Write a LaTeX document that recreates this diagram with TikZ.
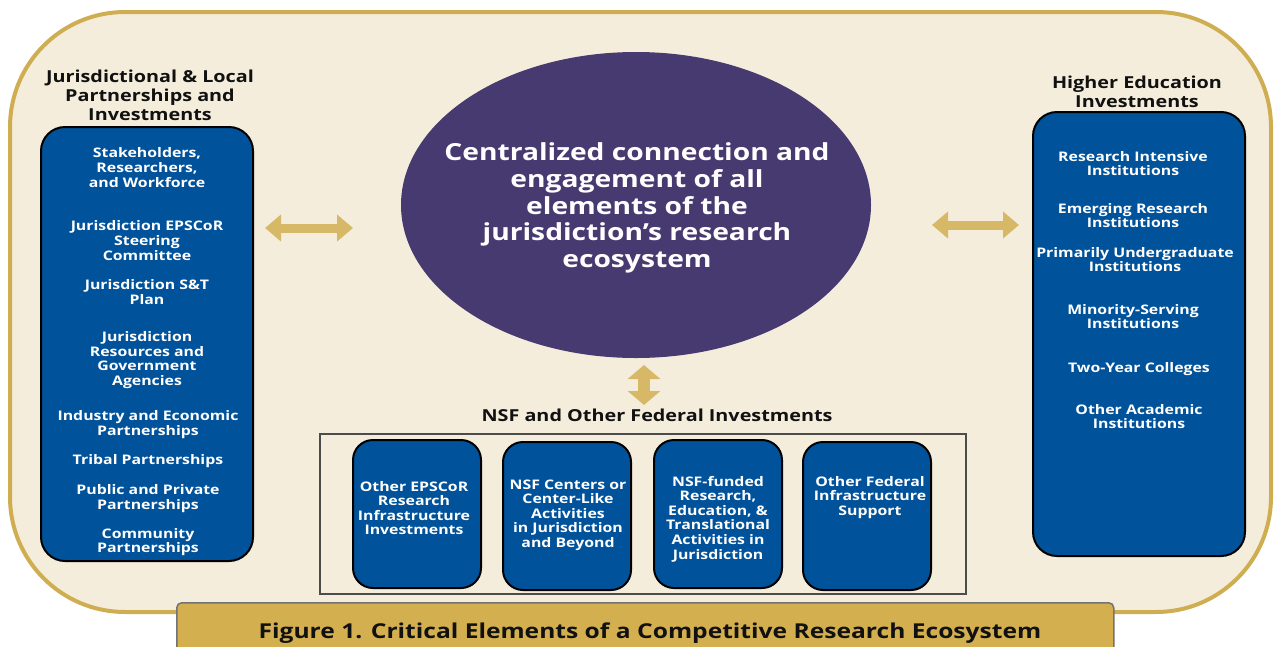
\documentclass[tikz,border=0pt]{standalone}
\usepackage{fontspec}
\setmainfont{Open Sans}[FakeStretch=1.2]
\usetikzlibrary{shapes.geometric,arrows.meta}
\definecolor{cream}{HTML}{F5EDDC}
\definecolor{framegold}{HTML}{CFAE52}
\definecolor{arrowgold}{HTML}{D6B866}
\definecolor{captgold}{HTML}{D3AF4F}
\definecolor{nsfblue}{HTML}{00529B}
\definecolor{ecopurple}{HTML}{473A70}
\definecolor{inkblack}{HTML}{111111}
\tikzset{
  bluebox/.style={draw=black, line width=2pt, fill=nsfblue, rounded corners=24pt, inner sep=0pt},
  smallbox/.style={draw=black, line width=2pt, fill=nsfblue, rounded corners=20pt, inner sep=0pt,
    minimum width=128pt, minimum height=148pt},
  itemtxt/.style={text=white, font=\bfseries\fontsize{13.2}{14.6}\selectfont, align=center, inner sep=0pt},
  headtxt/.style={text=inkblack, font=\bfseries\fontsize{16.5}{19}\selectfont, align=center, inner sep=0pt},
  hdblarrow/.style={arrowgold, line width=9pt, {Triangle[width=26pt,length=16pt]}-{Triangle[width=26pt,length=16pt]}},
  vdblarrow/.style={arrowgold, line width=12pt, {Triangle[width=32pt,length=14pt]}-{Triangle[width=32pt,length=14pt]}},
}
\begin{document}
\begin{tikzpicture}[x=1pt,y=-1pt]
\useasboundingbox (0,0) rectangle (1274,646);
\fill[white] (0,0) rectangle (1274,646);
% outer frame
\draw[framegold, line width=4pt, fill=cream, rounded corners=115pt] (10,12) rectangle (1271,612);

% left column
\node[headtxt] (lt) at (150,95) {Jurisdictional \& Local\\Partnerships and\\Investments};
\node[bluebox, minimum width=212pt, minimum height=434pt] (L) at (147,344) {};
\node[itemtxt] (l1) at (147,167.5) {Stakeholders,\\Researchers,\\and Workforce};
\node[itemtxt] (l2) at (147,240.5) {Jurisdiction EPSCoR\\Steering\\Committee};
\node[itemtxt] (l3) at (147,292) {Jurisdiction S\&T\\Plan};
\node[itemtxt] (l4) at (147,360) {Jurisdiction\\Resources and\\Government\\Agencies};
\node[itemtxt] (l5) at (148,424.5) {Industry and Economic\\Partnerships};
\node[itemtxt] (l6) at (148,461) {Tribal Partnerships};
\node[itemtxt] (l7) at (148,498.5) {Public and Private\\Partnerships};
\node[itemtxt] (l8) at (148,542) {Community\\Partnerships};

% right column
\node[headtxt] (rt) at (1137,91.5) {Higher Education\\Investments};
\node[bluebox, minimum width=212pt, minimum height=444pt] (R) at (1139,334) {};
\node[itemtxt] (r1) at (1133,163.5) {Research Intensive\\Institutions};
\node[itemtxt] (r2) at (1133,215.5) {Emerging Research\\Institutions};
\node[itemtxt] (r3) at (1135,259.5) {Primarily Undergraduate\\Institutions};
\node[itemtxt] (r4) at (1133,316.5) {Minority-Serving\\Institutions};
\node[itemtxt] (r5) at (1139,369) {Two-Year Colleges};
\node[itemtxt] (r6) at (1139,416.5) {Other Academic\\Institutions};

% centre ellipse
\node[ellipse, fill=ecopurple, minimum width=470pt, minimum height=306pt, inner sep=0pt] (E) at (636,205) {};
\node[text=white, align=center, inner sep=0pt, font=\bfseries\fontsize{23.5}{26.7}\selectfont] (et) at (637,208)
  {Centralized connection and\\engagement of all\\elements of the\\jurisdiction’s research\\ecosystem};

% NSF block
\node[headtxt] (nt) at (657,415) {NSF and Other Federal Investments};
\node[draw=black!70, line width=1.5pt, fill=cream, minimum width=646pt, minimum height=160pt, inner sep=0pt] (N) at (643,514) {};
\node[smallbox] (b1) at (417,514) {};
\node[smallbox] (b2) at (567,516) {};
\node[smallbox] (b3) at (718,514) {};
\node[smallbox] (b4) at (867,516) {};
\node[itemtxt] (t1) at (414,508) {Other EPSCoR\\Research\\Infrastructure\\Investments};
\node[itemtxt] (t2) at (568,515) {NSF Centers or\\Center-Like\\Activities\\in Jurisdiction\\and Beyond};
\node[itemtxt] (t3) at (718,519) {NSF-funded\\Research,\\Education, \&\\Translational\\Activities in\\Jurisdiction};
\node[itemtxt] (t4) at (870,497.5) {Other Federal\\Infrastructure\\Support};

% arrows
\coordinate (al1) at (265,228);
\coordinate (al2) at (353,228);
\coordinate (ar1) at (932,225);
\coordinate (ar2) at (1019,225);
\coordinate (av1) at (644,365);
\coordinate (av2) at (644,405);
\draw[hdblarrow] (al1) -- (al2);
\draw[hdblarrow] (ar1) -- (ar2);
\draw[vdblarrow] (av1) -- (av2);

% caption
\node[draw=black!55, line width=1.5pt, fill=captgold, rounded corners=5pt, minimum width=937pt,
  minimum height=60pt, anchor=north west, inner sep=0pt] (C) at (176,602) {};
\node[text=inkblack, font=\bfseries\fontsize{20.5}{24}\selectfont, inner sep=0pt] (ct) at (650,633)
  {Figure 1. Critical Elements of a Competitive Research Ecosystem};
\end{tikzpicture}
\end{document}
